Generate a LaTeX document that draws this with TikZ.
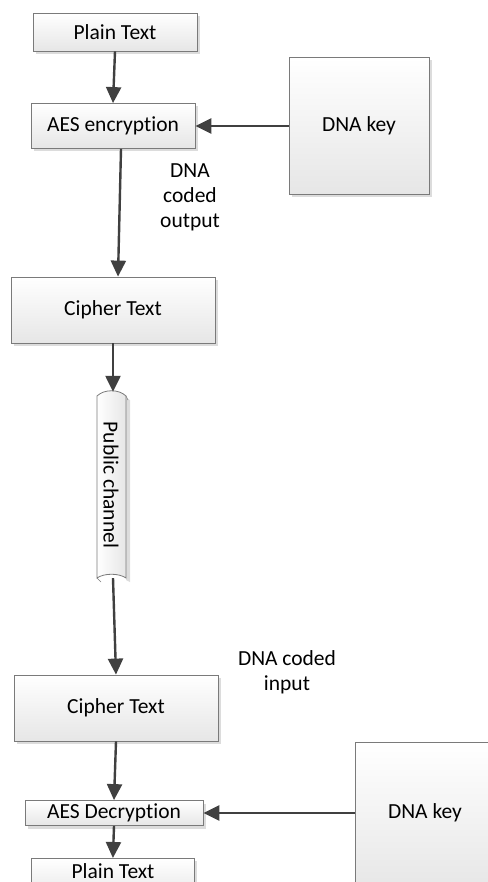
\documentclass[tikz,border=0pt]{standalone}
\usepackage{fontspec}
\setmainfont[Ligatures=NoCommon]{Carlito}
\usetikzlibrary{arrows.meta,shadows}
\definecolor{boxline}{HTML}{7A7A7A}
\definecolor{boxfill}{HTML}{E6E6E6}
\definecolor{arrowc}{HTML}{404040}
\definecolor{shadowc}{HTML}{DCDCDC}
\newcommand{\diagfont}{\fontsize{21.5}{25}\selectfont}
\begin{document}
\begin{tikzpicture}[x=1pt,y=-1pt,
  box/.style={draw=boxline, line width=0.8pt, top color=white, bottom color=boxfill,
    inner sep=0pt, font=\diagfont,
    drop shadow={shadow xshift=3pt, shadow yshift=-3pt, fill=shadowc, opacity=1}},
  flow/.style={draw=arrowc, line width=2.4pt, -{Triangle[length=16pt,width=15pt]}},
  lbl/.style={font=\diagfont, align=center, inner sep=0pt}]
\useasboundingbox (0,0) rectangle (487,882);

% encryption side
\node[box, minimum width=164, minimum height=38] (pt1) at (115,32) {Plain Text};
\node[box, minimum width=164, minimum height=45] (enc) at (113,126) {AES encryption};
\node[box, minimum width=140, minimum height=137] (key1) at (359,126) {DNA key};
\node[box, minimum width=204, minimum height=66] (ct1) at (113,310) {Cipher Text};
\node[lbl] (out) at (190,197) {DNA\\coded\\output};

% public channel drawn as a scroll
\node[minimum width=29, minimum height=186, inner sep=0pt] (ch) at (111,485) {};
\fill[shadowc] (126,398) -- (130,400) -- (130,582) -- (126,580) -- cycle;
\draw[boxline, line width=0.8pt, left color=white, right color=boxfill]
  (97,396) .. controls (104,389) and (119,389) .. (126,396)
  -- (126,578) .. controls (119,573) and (104,573) .. (97,578) -- cycle;
\draw[boxline, line width=0.6pt] (97,578) .. controls (99,580) .. (101,582);
\draw[boxline, line width=0.6pt] (126,396) .. controls (127,398) .. (128,400);
\node[rotate=-90, font=\diagfont, inner sep=0pt] (chl) at (ch) {Public channel};

% decryption side
\node[box, minimum width=204, minimum height=66] (ct2) at (116,708) {Cipher Text};
\node[lbl] (inp) at (287,672) {DNA coded\\input};
\node[box, minimum width=178, minimum height=25] (dec) at (114,813) {AES Decryption};
\node[box, minimum width=140, minimum height=150, anchor=north west] (key2) at (355,742) {};
\node[font=\diagfont, inner sep=0pt] (key2l) at (425,813) {DNA key};
\node[box, minimum width=163, minimum height=40, anchor=north west] (pt2) at (31,858) {};
\node[font=\diagfont, inner sep=0pt] (pt2l) at (113,871) {Plain Text};

% connectors
\draw[flow] (pt1.south) -- (enc.north);
\draw[flow] (key1.west) -- (enc.east);
\draw[flow] ([xshift=8pt]enc.south) -- ([xshift=5pt]ct1.north);
\draw[flow] (ct1.south) -- ([xshift=2pt]ch.north);
\draw[flow] ([xshift=2pt]ch.south) -- (ct2.north);
\draw[flow] (ct2.south) -- (dec.north);
\draw[flow] (key2.west |- dec.east) -- (dec.east);
\draw[flow] (dec.south) -- (pt2.north);
\end{tikzpicture}
\end{document}
